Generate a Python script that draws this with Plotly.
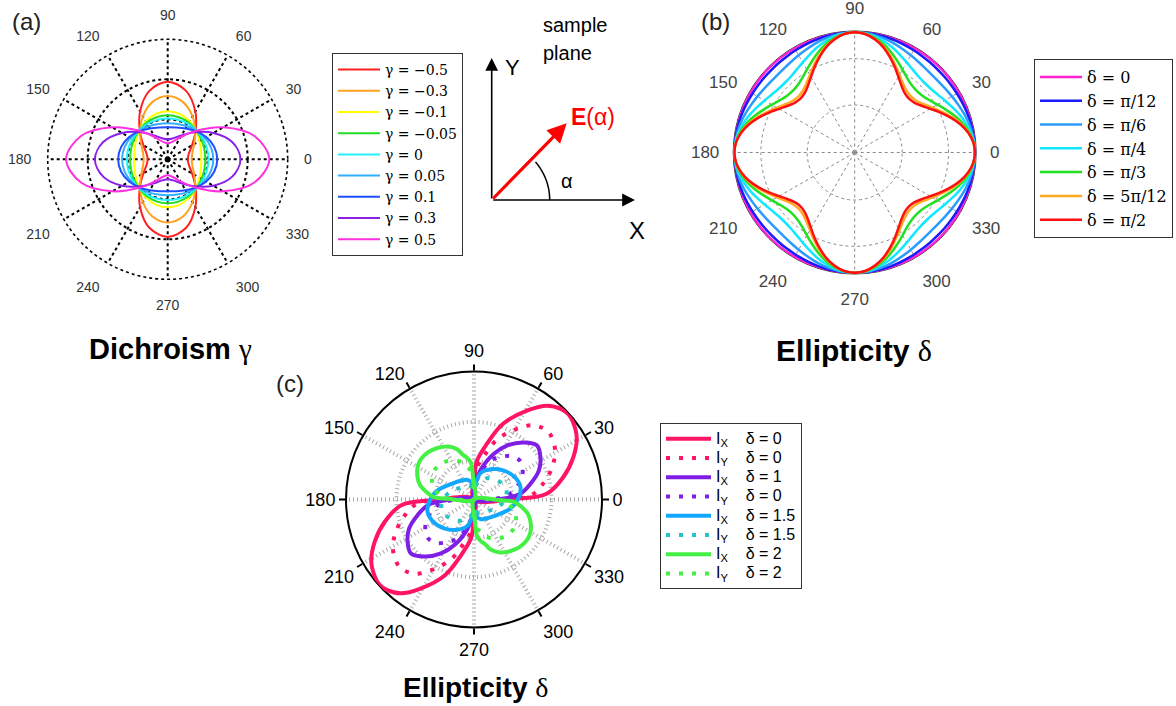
import numpy as np
import plotly.graph_objects as go

W, H = 1176, 706
SANS = "Liberation Sans, Arial, sans-serif"
SERIF = "Liberation Serif, Times New Roman, serif"
WIDE_SERIF = "DejaVu Serif, serif"

# ---------------- panel (a): dichroism (one quadrant, 0..90 deg) ----------------
A_THETA = [0, 15, 30, 45, 60, 75, 90]
A_R_GM050 = [0.25, 0.274, 0.351, 0.492, 0.691, 0.886, 0.97]
A_R_GM030 = [0.30, 0.320, 0.382, 0.487, 0.620, 0.740, 0.79]
A_R_GM010 = [0.42, 0.430, 0.459, 0.502, 0.549, 0.586, 0.60]
A_R_GM005 = [0.47, 0.475, 0.489, 0.508, 0.529, 0.544, 0.55]
A_R_G000 = [0.51, 0.51, 0.51, 0.51, 0.51, 0.51, 0.51]
A_R_GP005 = [0.57, 0.561, 0.537, 0.506, 0.477, 0.457, 0.45]
A_R_GP010 = [0.62, 0.602, 0.556, 0.498, 0.446, 0.412, 0.40]
A_R_GP030 = [0.91, 0.835, 0.659, 0.477, 0.345, 0.273, 0.25]
A_R_GP050 = [1.27, 1.122, 0.800, 0.504, 0.318, 0.226, 0.20]
A_SERIES = [A_R_GM050, A_R_GM030, A_R_GM010, A_R_GM005, A_R_G000,
            A_R_GP005, A_R_GP010, A_R_GP030, A_R_GP050]
A_LABELS = ["γ = −0.5", "γ = −0.3", "γ = −0.1", "γ = −0.05", "γ = 0",
            "γ = 0.05", "γ = 0.1", "γ = 0.3", "γ = 0.5"]
A_COLORS = ["#ff2020", "#ffa020", "#ffff00", "#22dd22", "#22f0ff",
            "#30b0ff", "#1f50ff", "#8a20e8", "#ff30e0"]

# ---------------- panel (b): ellipticity (0..45 deg, symmetric) ----------------
B_THETA = [0, 5, 10, 15, 20, 25, 30, 35, 40, 45]
B_R_D0 = [1, 1, 1, 1, 1, 1, 1, 1, 1, 1]
B_R_D1 = [1, 0.999, 0.997, 0.994, 0.990, 0.985, 0.981, 0.978, 0.976, 0.975]
B_R_D2 = [1, 0.997, 0.989, 0.978, 0.963, 0.947, 0.933, 0.921, 0.913, 0.910]
B_R_D3 = [1, 0.995, 0.979, 0.955, 0.926, 0.894, 0.865, 0.841, 0.825, 0.820]
B_R_D4 = [1, 0.992, 0.968, 0.932, 0.887, 0.839, 0.795, 0.758, 0.734, 0.726]
B_R_D5 = [1, 0.990, 0.960, 0.915, 0.860, 0.800, 0.745, 0.700, 0.670, 0.660]
B_R_D6 = [1, 0.989, 0.957, 0.909, 0.849, 0.786, 0.726, 0.678, 0.646, 0.635]
B_SERIES = [B_R_D0, B_R_D1, B_R_D2, B_R_D3, B_R_D4, B_R_D5, B_R_D6]
B_LABELS = ["δ = 0", "δ = π/12", "δ = π/6", "δ = π/4", "δ = π/3", "δ = 5π/12", "δ = π/2"]
B_COLORS = ["#ff22d0", "#1a1aff", "#2a9cff", "#10e8ff", "#22e022", "#ffaa22", "#ff1010"]

# ---------------- panel (c): I_X / I_Y lobes (half turn, point symmetric) ----------------
C_PINK_TH = [0, 1, 4.5, 14, 23, 31, 38, 42, 46, 52, 59, 69, 77, 85.6, 88.5, 90]
C_PINK_IX = [0, 1.08, 1.88, 2.37, 2.78, 3.09, 3.24, 3.28, 3.24, 3.07, 2.68, 2.09, 1.47, 1.00, 0.57, 0]
C_PINK_IY = [0, 0.85, 1.49, 1.87, 2.20, 2.44, 2.56, 2.59, 2.56, 2.43, 2.12, 1.65, 1.16, 0.79, 0.45, 0]

C_PURP_TH = [0, 2, 7, 15.5, 24, 32.5, 40.6, 49, 58.6, 66.7, 77.7, 86, 90]
C_PURP_IX = [0, 0.77, 1.20, 1.51, 1.83, 2.03, 2.14, 1.95, 1.63, 1.28, 0.77, 0.36, 0]
C_PURP_IY_TH = [0, 2, 7, 15.5, 24, 32, 40, 48, 56, 64, 72, 80, 86, 90]
C_PURP_IY = [0, 0.57, 0.88, 1.13, 1.34, 1.48, 1.55, 1.50, 1.34, 1.16, 0.90, 0.57, 0.26, 0]

C_BLUE_TH = [-90, -80, -70, -55, -40, -30, -15, 0, 15, 30, 45, 60, 75, 82]
C_BLUE_IX = [0.31, 0.46, 0.54, 0.59, 0.67, 0.75, 0.95, 1.13, 1.24, 1.19, 1.06, 0.90, 0.72, 0.52]
C_BLUE_IY = [0.22, 0.32, 0.38, 0.42, 0.47, 0.53, 0.67, 0.79, 0.87, 0.83, 0.74, 0.63, 0.50, 0.36]

C_GREEN_TH = [90, 92.5, 94.8, 99, 104, 108.4, 116, 125.4, 134, 143, 150, 157.6, 165, 172, 176.7, 178.5, 180]
C_GREEN_IX = [0, 0.57, 0.95, 1.08, 1.19, 1.36, 1.52, 1.63, 1.70, 1.72, 1.68, 1.58, 1.44, 1.21, 1.04, 0.67, 0]
C_GREEN_IY = [0, 0.42, 0.70, 0.80, 0.88, 1.01, 1.12, 1.21, 1.26, 1.27, 1.24, 1.17, 1.07, 0.90, 0.77, 0.50, 0]

SP = "\u00a0"
C_LABELS = ["I<sub>X</sub>", "I<sub>Y</sub>", "I<sub>X</sub>", "I<sub>Y</sub>",
            "I<sub>X</sub>", "I<sub>Y</sub>", "I<sub>X</sub>", "I<sub>Y</sub>"]
C_DELTAS = ["δ = 0", "δ = 0", "δ = 1", "δ = 0", "δ = 1.5", "δ = 1.5", "δ = 2", "δ = 2"]
C_COLORS = ["#ff1466", "#ff1466", "#7f1fe6", "#7f1fe6", "#12a8ff", "#22c4c4", "#44f044", "#44f044"]

ANGLE_TICKS = list(range(0, 360, 30))


def unfold_quadrant(theta_q, r_q):
    """Mirror a 0..90 deg quadrant into a closed 0..360 deg curve."""
    th, rr = list(theta_q), list(r_q)
    th += [180 - t for t in reversed(theta_q[:-1])]
    rr += list(reversed(r_q[:-1]))
    th += [180 + t for t in th[1:]]
    rr += rr[1:]
    return th, rr


def mirror_45(theta_h, r_h):
    """Extend 0..45 deg values to 0..90 deg by symmetry about 45 deg."""
    th = list(theta_h) + [90 - t for t in reversed(theta_h[:-1])]
    rr = list(r_h) + list(reversed(r_h[:-1]))
    return th, rr


def two_lobes(theta, r):
    return list(theta) + [None] + [t + 180 for t in theta], list(r) + [None] + list(r)


def closed_half_turn(theta, r):
    th = list(theta) + [t + 180 for t in theta] + [theta[0] + 360]
    rr = list(r) + list(r) + [r[0]]
    return th, rr


def domain(cx, cy, R):
    return dict(x=[(cx - R) / W, (cx + R) / W], y=[1 - (cy + R) / H, 1 - (cy - R) / H])


fig = go.Figure()

# panel (a) traces
for r_q, name, col in zip(A_SERIES, A_LABELS, A_COLORS):
    th, rr = unfold_quadrant(A_THETA, r_q)
    fig.add_trace(go.Scatterpolar(r=rr, theta=th, mode="lines", name=name,
                                  line=dict(color=col, width=2, shape="spline"),
                                  subplot="polar", legend="legend"))

# panel (b) traces
for r_h, name, col in zip(B_SERIES, B_LABELS, B_COLORS):
    tq, rq = mirror_45(B_THETA, r_h)
    th, rr = unfold_quadrant(tq, rq)
    fig.add_trace(go.Scatterpolar(r=rr, theta=th, mode="lines", name=name,
                                  line=dict(color=col, width=2.5, shape="spline"),
                                  subplot="polar2", legend="legend2"))

# panel (c) traces
c_curves = [
    two_lobes(C_PINK_TH, C_PINK_IX), two_lobes(C_PINK_TH, C_PINK_IY),
    two_lobes(C_PURP_TH, C_PURP_IX), two_lobes(C_PURP_IY_TH, C_PURP_IY),
    closed_half_turn(C_BLUE_TH, C_BLUE_IX), closed_half_turn(C_BLUE_TH, C_BLUE_IY),
    two_lobes(C_GREEN_TH, C_GREEN_IX), two_lobes(C_GREEN_TH, C_GREEN_IY),
]
for i, ((th, rr), comp, dl, col) in enumerate(zip(c_curves, C_LABELS, C_DELTAS, C_COLORS)):
    dotted = (i % 2 == 1)
    name = f"<span style='font-size:16px'>{comp}{SP*4}{dl}</span>"
    fig.add_trace(go.Scatterpolar(r=rr, theta=th, mode="lines", name=name,
                                  line=dict(color=col, width=4, shape="spline",
                                            dash="4px,9px" if dotted else "solid"),
                                  connectgaps=False, subplot="polar3", legend="legend3"))

# invisible trace that holds the sketch axes
fig.add_trace(go.Scatter(x=[], y=[], showlegend=False, xaxis="x", yaxis="y"))


def polar_axes(cx, cy, R, rmax, rticks, gridcolor, griddash, gridwidth, tickfont, showline,
               linecolor="black", linewidth=1, tickcolor="rgba(0,0,0,0)", ticklen=0):
    return dict(
        domain=domain(cx, cy, R),
        bgcolor="rgba(0,0,0,0)",
        radialaxis=dict(range=[0, rmax], tickvals=rticks, showticklabels=False, ticks="",
                        showline=False, gridcolor=gridcolor, griddash=griddash,
                        gridwidth=gridwidth, layer="below traces"),
        angularaxis=dict(tickvals=ANGLE_TICKS, ticktext=[str(a) for a in ANGLE_TICKS],
                         direction="counterclockwise", rotation=0, gridcolor=gridcolor,
                         griddash=griddash, gridwidth=gridwidth, tickfont=tickfont,
                         showline=showline, linecolor=linecolor, linewidth=linewidth,
                         ticks="outside", ticklen=ticklen, tickcolor=tickcolor, tickwidth=1.5,
                         layer="below traces"),
    )


A_C, A_RAD = (167.7, 159.3), 120
layout_polar = polar_axes(A_C[0], A_C[1], A_RAD, 1.5, [0.5, 1.0], "black", "dot", 1.6,
                          dict(family=SANS, size=14, color="#333"), False, ticklen=13)
layout_polar2 = polar_axes(854.7, 152.5, 121.5, 1.01, [0.395, 0.78], "#8a8a8a", "dot", 1.3,
                           dict(family=SANS, size=17, color="#444"), True, "#333", 1,
                           ticklen=10)
layout_polar3 = polar_axes(474, 499.5, 128, 3.3, [1, 2], "#a8a8a8", "1px,3px", 4,
                           dict(family=SANS, size=18, color="black"), True, "black", 2,
                           tickcolor="black", ticklen=6)

legend_common = dict(xanchor="left", yanchor="top", bgcolor="white", borderwidth=1,
                     bordercolor="#333", traceorder="normal")


def label(text, x, y, size, family=SANS, color="black", xanchor="center"):
    return dict(text=text, x=x / W, y=1 - y / H, xref="paper", yref="paper", showarrow=False,
                xanchor=xanchor, yanchor="middle", font=dict(family=family, size=size, color=color))


def sketch_text(text, x, y, size, color="black", xanchor="center"):
    return dict(text=text, x=x, y=y, xref="x", yref="y", showarrow=False, xanchor=xanchor,
                yanchor="middle", font=dict(family=SANS, size=size, color=color))


annotations = [
    label("(a)", 26, 21, 24, color="#222"),
    label("(b)", 715, 21, 24, color="#222"),
    label("(c)", 290, 383, 24, color="#222"),
    label(f"<b>Dichroism</b> <span style='font-family:{SERIF}'>γ</span>", 170, 349, 29),
    label(f"<b>Ellipticity</b> <span style='font-family:{SERIF}'>δ</span>", 854, 350, 30),
    label(f"<b>Ellipticity</b> <span style='font-family:{SERIF}'>δ</span>", 475, 687, 28),
    # sample-plane sketch
    sketch_text("sample", 541, 25, 20, xanchor="left"),
    sketch_text("plane", 541, 53, 20, xanchor="left"),
    sketch_text("Y", 512, 67, 22),
    sketch_text("X", 637, 230, 24),
    sketch_text("<b>E</b>(α)", 569, 117, 23, color="#ff0000", xanchor="left"),
    sketch_text("α", 567, 181, 20),
]

ORIGIN = (491.7, 200)
arrows = [
    ((491.7, 58), 1.6, "black", 2, 1.6),
    ((635, 200), 1.6, "black", 2, 1.6),
    ((566.7, 123.3), 3.2, "#ff0000", 2, 1.2),
]
for (hx, hy), w, col, head, size in arrows:
    annotations.append(dict(x=hx, y=hy, ax=ORIGIN[0], ay=ORIGIN[1], xref="x", yref="y",
                            axref="x", ayref="y", text="", showarrow=True, arrowhead=head,
                            arrowsize=size, arrowwidth=w, arrowcolor=col, standoff=0))

# angle arc from the X axis to the field vector
ARC_R = 58
arc_a = np.radians(np.linspace(0, 41, 30))
arc_x = ORIGIN[0] + ARC_R * np.cos(arc_a)
arc_y = ORIGIN[1] - ARC_R * np.sin(arc_a)
arc_path = "M " + " L ".join(f"{x:.2f},{y:.2f}" for x, y in zip(arc_x, arc_y))
head_a = np.radians(45)
annotations.append(dict(x=ORIGIN[0] + ARC_R * np.cos(head_a), y=ORIGIN[1] - ARC_R * np.sin(head_a),
                        ax=arc_x[-1], ay=arc_y[-1], xref="x", yref="y", axref="x", ayref="y",
                        text="", showarrow=True, arrowhead=2, arrowsize=1.6, arrowwidth=1.5,
                        arrowcolor="black", standoff=0))

shapes = [
    dict(type="path", path=arc_path, xref="x", yref="y", line=dict(color="black", width=1.5)),
    # dotted outer frame of the dichroism polar plot
    dict(type="circle", xref="paper", yref="paper", layer="below",
         x0=(A_C[0] - A_RAD) / W, x1=(A_C[0] + A_RAD) / W,
         y0=1 - (A_C[1] + A_RAD) / H, y1=1 - (A_C[1] - A_RAD) / H,
         line=dict(color="black", width=1.6, dash="dot")),
]

fig.update_layout(
    width=W, height=H, margin=dict(l=0, r=0, t=0, b=0),
    paper_bgcolor="white", plot_bgcolor="rgba(0,0,0,0)",
    polar=layout_polar, polar2=layout_polar2, polar3=layout_polar3,
    xaxis=dict(domain=[470 / W, 660 / W], range=[470, 660], visible=False, fixedrange=True),
    yaxis=dict(domain=[1 - 250 / H, 1 - 10 / H], range=[250, 10], visible=False, fixedrange=True),
    legend=dict(x=332 / W, y=1 - 53 / H, font=dict(family=WIDE_SERIF, size=14, color="black"),
                itemwidth=42, **legend_common),
    legend2=dict(x=1034 / W, y=1 - 59 / H, font=dict(family=WIDE_SERIF, size=16, color="black"),
                 itemwidth=42, **legend_common),
    legend3=dict(x=660 / W, y=1 - 423 / H, font=dict(family=SANS, size=12.5, color="black"),
                 itemwidth=45, **legend_common),
    annotations=annotations,
    shapes=shapes,
    showlegend=True,
)

fig.write_html("out.html")
